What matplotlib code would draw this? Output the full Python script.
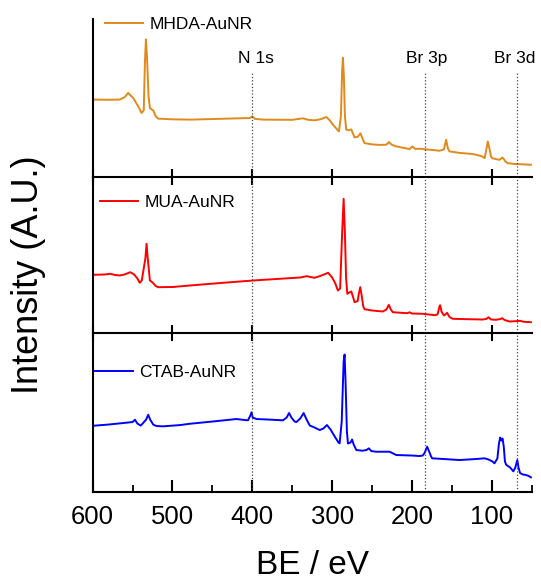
import numpy as np
import matplotlib
matplotlib.use("Agg")
import matplotlib.pyplot as plt
from matplotlib.ticker import MultipleLocator

plt.rcParams['font.family'] = ['Liberation Sans', 'DejaVu Sans']

# widma XPS (BE w eV, intensywnosc w j.u.)
be_mhda = [599, 580, 566, 560, 555.5, 549, 543, 538.7, 536, 534.5, 533.3, 532, 530, 528.3,
           525.5, 524, 521, 518, 500, 478, 440, 403, 400, 397, 386.6, 350, 336.5, 330, 322,
           315, 307.3, 303, 299, 295, 291.5, 289, 287.5, 286.5, 285.3, 284, 282.3, 279,
           276, 272, 268, 264.5, 261, 259.4, 250, 240, 232, 229, 225, 219.7, 210, 203,
           199.7, 196, 190.6, 175, 165.5, 160, 157.2, 155, 153, 140, 125, 119.6, 112, 109,
           106.5, 105, 103, 101, 99.6, 93, 90, 87, 85, 83, 80, 72, 65.5, 51]
int_mhda = [76.7, 76.5, 76.7, 79, 83.3, 78, 70, 63.3, 66, 115, 136.7, 120, 80, 68.3,
            66.5, 65.7, 60, 57.7, 57, 56.7, 57.5, 58.3, 60, 57.5, 56.7, 56.5, 58, 56.5, 56,
            57, 59.3, 56, 51.7, 48, 45, 60, 105, 118.3, 100, 60, 46.7, 46,
            47, 39, 39.5, 43, 36, 33.3, 32, 31.5, 31.7, 34.3, 31.5, 30, 28.5, 27.3,
            30, 27.5, 27.7, 26.5, 25.7, 27, 36.7, 28, 25, 23.5, 22.5, 21.7, 20, 18.3,
            28, 35, 28, 20, 18.3, 17, 16.7, 19, 17.5, 15, 13.3, 12.5, 12.3, 11.7]

be_mua = [599, 585, 578, 572, 566, 560, 553, 548, 544, 541, 538.5, 534, 532.5, 531, 528.3,
          525, 521, 518, 500, 478, 440, 399, 370, 340, 332, 322, 315, 305, 300, 296,
          292.8, 290, 287.5, 285.6, 284, 282.5, 281, 277.5, 276, 274, 271.9, 268, 266.5,
          264.8, 263, 261, 259.4, 250, 236.5, 232, 229, 226.5, 224, 210, 206, 203, 200,
          186.4, 171.8, 168, 165.5, 164.7, 163, 160, 157.5, 156, 153, 149, 130, 111.4,
          107, 104, 101, 95, 90, 87, 84, 78, 70, 64.6, 60, 51]
int_mua = [58.7, 59, 59.7, 58.5, 58, 59, 61.3, 59, 55, 50.7, 53, 75, 89.7, 75, 53,
           51, 47.5, 46.3, 46.5, 48, 50.5, 53, 54.5, 56, 57.3, 55.7, 57.5, 60.7, 56, 50,
           43, 45, 100, 134.7, 100, 55, 39.7, 41.5, 42, 37, 31.3, 32.5, 40,
           46.3, 38, 27, 24.3, 23, 22, 24, 28.7, 24, 21.3, 20.5, 20.3, 21.2, 20,
           19.7, 18.3, 19, 27, 28.3, 22, 18, 19.5, 20.7, 16.5, 14.7, 14.3, 14,
           14.5, 16.3, 14, 13.7, 14.3, 15.3, 13.5, 12, 12.3, 12.7, 11.7, 11.3]

be_ctab = [599, 580, 561.7, 550, 547, 544, 540, 538.7, 533, 530.4, 528, 524, 520, 511.7,
           490, 478, 450, 420, 405.4, 402.5, 401, 399.5, 394.8, 380, 361.6, 357, 354, 351,
           347, 344.8, 340, 335.7, 332, 328, 322, 315.6, 311, 306.5, 302, 296, 292, 290.6,
           288, 285.6, 284.4, 283.2, 281.5, 280.2, 277, 275, 273, 269.7, 262, 257, 254,
           251, 245, 228, 219.7, 200, 190.6, 186.5, 184, 182.5, 180.9, 178.5, 176, 174.7,
           160, 140.5, 120, 109, 104, 99, 96.7, 93, 91, 89.5, 88, 86.5, 85, 83.5, 82, 77,
           73, 70.5, 68, 66.5, 64.6, 61, 59, 55, 51]
int_ctab = [65.8, 67, 68.5, 69.5, 71.8, 68, 66, 66.8, 72, 76.8, 72, 66.8, 65.5, 65.2,
            66.5, 67.8, 70, 72.5, 71.2, 76, 79.2, 74, 72.5, 72, 71.2, 74, 78.5, 74,
            70, 69.5, 73, 78.5, 72, 66, 64, 61.5, 63, 66.5, 62, 54, 49, 48.2,
            70, 130, 137, 110, 60, 48, 49, 52, 47, 41.5, 40.8, 41.5, 43.2,
            40.5, 39.8, 39.8, 36.5, 36, 35.5, 36, 38.8, 42, 44.8, 40, 35, 33.2,
            32.5, 31.5, 32.5, 33.2, 32, 30, 28.2, 33, 48, 54, 51, 53, 45, 30, 26.8, 24,
            20.2, 24, 31.5, 24, 18.5, 17, 16.8, 16, 14.2]

nazwy = ['MHDA-AuNR', 'MUA-AuNR', 'CTAB-AuNR']
kolory = ['#E08A1C', '#FF0000', '#0000FF']
linie_be = [400, 184, 69]
linie_opis = ['N 1s', 'Br 3p', 'Br 3d']
opis_x = [395, 182, 71]

fig = plt.figure(figsize=(5.41, 5.81), dpi=100)
lewo, szer = 0.1713, 0.8115
ax_top = fig.add_axes([lewo, 0.6962, szer, 0.2711])
ax_mid = fig.add_axes([lewo, 0.4260, szer, 0.2702])
ax_bot = fig.add_axes([lewo, 0.1540, szer, 0.2702])
osie = [ax_top, ax_mid, ax_bot]
dane = [(be_mhda, int_mhda), (be_mua, int_mua), (be_ctab, int_ctab)]
leg_pos = [(0.028, 0.968), (0.017, 0.832), (0.005, 0.761)]

for ax, (x, y), nazwa, kol, lp in zip(osie, dane, nazwy, kolory, leg_pos):
    ax.plot(x, y, color=kol, lw=1.4, label=nazwa)
    ax.set_xlim(600, 50)
    ax.set_ylim(0, 157)
    ax.set_yticks([])
    ax.xaxis.set_major_locator(MultipleLocator(100))
    for s in ['top', 'right']:
        ax.spines[s].set_visible(False)
    for s in ['left', 'bottom']:
        ax.spines[s].set_linewidth(1.5)
    ax.legend(loc='center left', bbox_to_anchor=lp, frameon=False, fontsize=12.5,
              handlelength=2.2, handletextpad=0.35, borderpad=0, borderaxespad=0)
    ax.patch.set_alpha(0)

for ax in [ax_top, ax_mid]:
    ax.tick_params(axis='x', direction='inout', length=11, width=1.5, labelbottom=False)

ax_bot.xaxis.set_minor_locator(MultipleLocator(50))
ax_bot.tick_params(axis='x', which='major', direction='in', length=8.5, width=1.5,
                   labelsize=18.5, pad=10)
ax_bot.tick_params(axis='x', which='minor', direction='in', length=4.8, width=1.3)
ax_bot.set_xlabel('BE / eV', fontsize=24, labelpad=15)

# linie pomocnicze
for xb, opis, xo in zip(linie_be, linie_opis, opis_x):
    ax_top.axvline(xb, ymax=0.66, color='#444444', ls=':', lw=0.9)
    ax_mid.axvline(xb, color='#444444', ls=':', lw=0.9)
    ax_bot.axvline(xb, color='#444444', ls=':', lw=0.9)
    ax_top.text(xo, 117.5, opis, ha='center', va='center', fontsize=12.5)

fig.text(29 / 541, 1 - 275 / 581, 'Intensity (A.U.)', rotation=90, ha='center',
         va='center', fontsize=26)

fig.savefig('out.png', dpi=100)
